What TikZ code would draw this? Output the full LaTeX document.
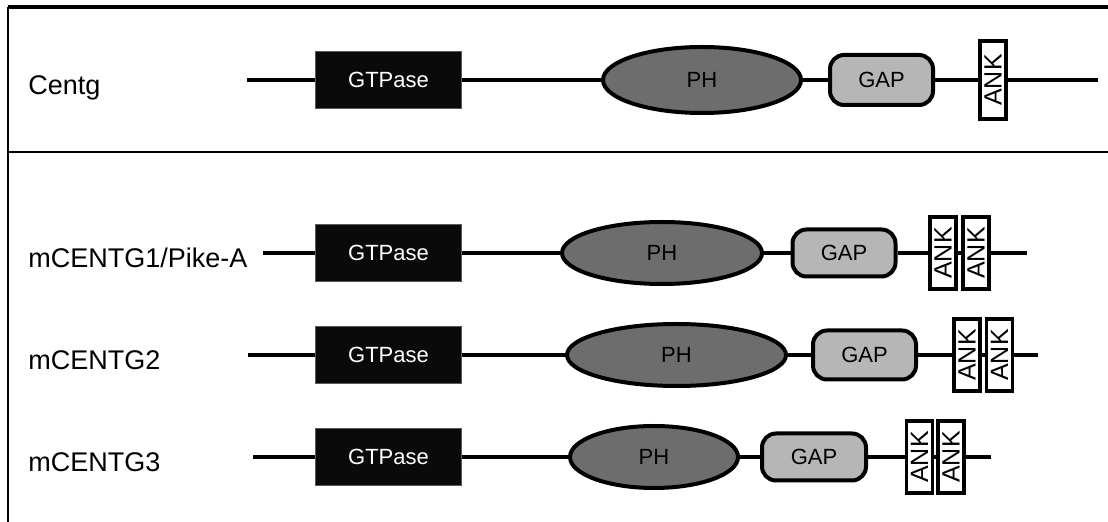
\documentclass[tikz,border=0pt]{standalone}
\usepackage{fontspec}
\setmainfont{Liberation Sans}
\usetikzlibrary{shapes.geometric}
\definecolor{phgray}{RGB}{108,109,108}
\definecolor{gapgray}{RGB}{181,182,181}

\begin{document}
\begin{tikzpicture}[x=0.5pt,y=-0.5pt,
    backbone/.style={line width=2.3pt},
    rowlabel/.style={anchor=base west,inner sep=0pt,font=\fontsize{13.5}{15}\selectfont},
    gtpase/.style={draw=black!65,line width=0.6pt,fill=black!96,text=white,minimum width=73pt,minimum height=28.5pt,inner sep=0pt,font=\fontsize{11}{12}\selectfont},
    phdom/.style={ellipse,draw,line width=2pt,fill=phgray,minimum height=31pt,inner sep=0pt,font=\fontsize{11}{12}\selectfont},
    gapdom/.style={rectangle,rounded corners=7pt,draw,line width=2pt,fill=gapgray,minimum width=51.5pt,minimum height=23.5pt,inner sep=0pt,font=\fontsize{11}{12}\selectfont},
    ankbox/.style={rectangle,draw,line width=1.8pt,fill=white,rotate=90,minimum width=36pt,minimum height=13pt,inner sep=0pt,font=\fontsize{12.5}{13}\selectfont}
  ]
  \useasboundingbox (0,0) rectangle (1108,522);
  \draw[line width=1.7pt] (8,7) -- (1108,7);
  \draw[line width=1.2pt] (8,7) -- (8,522);
  \draw[line width=1.2pt] (8,152) -- (1108,152);

  \node[rowlabel] (lbl0) at (28,95) {Centg};
  \coordinate (s0) at (247,80);
  \node[gtpase] (gtp0) at (388.5,80) {GTPase};
  \node[phdom,minimum width=99pt,minimum height=33pt] (ph0) at (702,80) {PH};
  \node[gapdom,minimum height=25pt] (gap0) at (881.5,80) {GAP};
  \node[ankbox,minimum width=39pt] (ank0) at (993,80) {ANK};
  \coordinate (e0) at (1098,80);
  \draw[backbone] (s0) -- (gtp0) -- (ph0) -- (gap0) -- (ank0) -- (e0);

  \node[rowlabel] (lbl1) at (28,268) {mCENTG1/Pike-A};
  \coordinate (s1) at (263,253);
  \node[gtpase] (gtp1) at (388.5,253) {GTPase};
  \node[phdom,minimum width=100pt] (ph1) at (662,253) {PH};
  \node[gapdom] (gap1) at (844,253) {GAP};
  \node[ankbox] (ank1a) at (943,253) {ANK};
  \node[ankbox] (ank1b) at (976,253) {ANK};
  \coordinate (e1) at (1027,253);
  \draw[backbone] (s1) -- (gtp1) -- (ph1) -- (gap1) -- (ank1a) -- (ank1b) -- (e1);

  \node[rowlabel] (lbl2) at (28,370) {mCENTG2};
  \coordinate (s2) at (248,355);
  \node[gtpase] (gtp2) at (388.5,355) {GTPase};
  \node[phdom,minimum width=109.5pt] (ph2) at (676.5,355) {PH};
  \node[gapdom,minimum height=24.5pt] (gap2) at (864.5,355) {GAP};
  \node[ankbox] (ank2a) at (967,355) {ANK};
  \node[ankbox] (ank2b) at (999.5,355) {ANK};
  \coordinate (e2) at (1038,355);
  \draw[backbone] (s2) -- (gtp2) -- (ph2) -- (gap2) -- (ank2a) -- (ank2b) -- (e2);

  \node[rowlabel] (lbl3) at (28,472) {mCENTG3};
  \coordinate (s3) at (253,457);
  \node[gtpase] (gtp3) at (388.5,457) {GTPase};
  \node[phdom,minimum width=84pt] (ph3) at (654,457) {PH};
  \node[gapdom,minimum width=52pt] (gap3) at (814,457) {GAP};
  \node[ankbox] (ank3a) at (919.5,457) {ANK};
  \node[ankbox] (ank3b) at (951,457) {ANK};
  \coordinate (e3) at (991,457);
  \draw[backbone] (s3) -- (gtp3) -- (ph3) -- (gap3) -- (ank3a) -- (ank3b) -- (e3);
\end{tikzpicture}
\end{document}
